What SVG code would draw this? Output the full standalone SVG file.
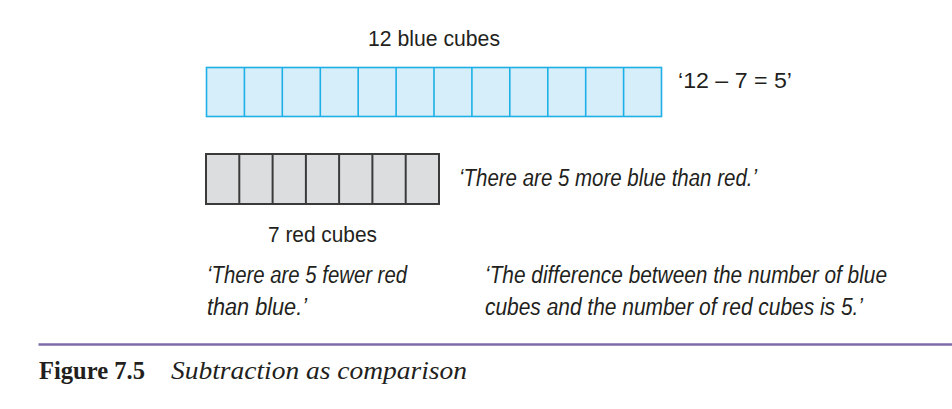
<svg xmlns="http://www.w3.org/2000/svg" width="952" height="409" viewBox="0 0 952 409">
<style>
.lbl{font-family:"Liberation Sans",Arial,sans-serif;font-size:22px;fill:#231f20}
.it{font-family:"Liberation Sans",Arial,sans-serif;font-size:23px;font-style:italic;fill:#231f20}
.blue{fill:#d6edfa;stroke:#1cb0e6;stroke-width:1.6}
.bline{stroke:#1cb0e6;stroke-width:1.6}
.gray{fill:#dcdddf;stroke:#3a3a3a;stroke-width:2}
.gline{stroke:#3a3a3a;stroke-width:2}
.cap{font-family:"Liberation Serif","Times New Roman",serif;font-size:26px;fill:#231f20}
</style>
<rect width="952" height="409" fill="#ffffff"/>
<g id="blue-cubes">
<rect class="blue" x="206.5" y="67.5" width="455" height="49"/>
<g class="bline">
<line x1="244.4" y1="67.5" x2="244.4" y2="116.5"/>
<line x1="282.3" y1="67.5" x2="282.3" y2="116.5"/>
<line x1="320.3" y1="67.5" x2="320.3" y2="116.5"/>
<line x1="358.2" y1="67.5" x2="358.2" y2="116.5"/>
<line x1="396.1" y1="67.5" x2="396.1" y2="116.5"/>
<line x1="434" y1="67.5" x2="434" y2="116.5"/>
<line x1="471.9" y1="67.5" x2="471.9" y2="116.5"/>
<line x1="509.8" y1="67.5" x2="509.8" y2="116.5"/>
<line x1="547.8" y1="67.5" x2="547.8" y2="116.5"/>
<line x1="585.7" y1="67.5" x2="585.7" y2="116.5"/>
<line x1="623.6" y1="67.5" x2="623.6" y2="116.5"/>
</g>
<text class="lbl" x="368" y="46" textLength="132" lengthAdjust="spacingAndGlyphs">12 blue cubes</text>
</g>
<g id="red-cubes">
<rect class="gray" x="206" y="154" width="233" height="50"/>
<g class="gline">
<line x1="239.3" y1="154" x2="239.3" y2="204"/>
<line x1="272.6" y1="154" x2="272.6" y2="204"/>
<line x1="305.9" y1="154" x2="305.9" y2="204"/>
<line x1="339.1" y1="154" x2="339.1" y2="204"/>
<line x1="372.4" y1="154" x2="372.4" y2="204"/>
<line x1="405.7" y1="154" x2="405.7" y2="204"/>
</g>
<text class="lbl" x="268" y="241.5" textLength="109" lengthAdjust="spacingAndGlyphs">7 red cubes</text>
</g>
<g id="equation">
<text class="lbl" x="678" y="88" textLength="114" lengthAdjust="spacingAndGlyphs">‘12 – 7 = 5’</text>
</g>
<g id="statement-more">
<text class="it" x="459" y="186" textLength="298" lengthAdjust="spacingAndGlyphs">‘There are 5 more blue than red.’</text>
</g>
<g id="statement-fewer">
<text class="it" x="207" y="282.5" textLength="200" lengthAdjust="spacingAndGlyphs">‘There are 5 fewer red</text>
<text class="it" x="207" y="314.5" textLength="100" lengthAdjust="spacingAndGlyphs">than blue.’</text>
</g>
<g id="statement-difference">
<text class="it" x="485" y="283" textLength="402" lengthAdjust="spacingAndGlyphs">‘The difference between the number of blue</text>
<text class="it" x="485" y="315" textLength="378" lengthAdjust="spacingAndGlyphs">cubes and the number of red cubes is 5.’</text>
</g>
<g id="caption">
<line x1="38.5" y1="344.5" x2="952" y2="344.5" stroke="#7d6aa9" stroke-width="2.5"/>
<text class="cap" x="39" y="379" font-weight="bold" textLength="106" lengthAdjust="spacingAndGlyphs">Figure 7.5</text>
<text class="cap" x="171" y="379" font-style="italic" textLength="296" lengthAdjust="spacingAndGlyphs">Subtraction as comparison</text>
</g>
</svg>
